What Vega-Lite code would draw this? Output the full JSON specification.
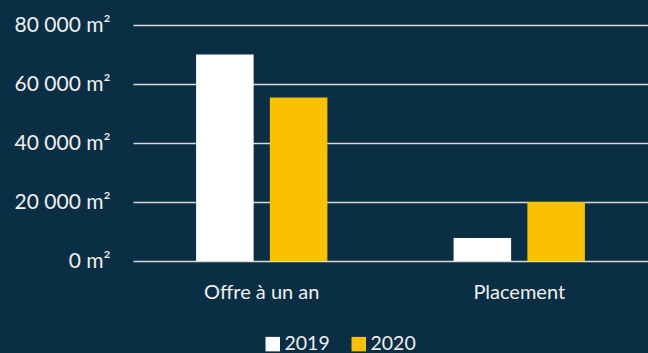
{
  "$schema": "https://vega.github.io/schema/vega-lite/v6.json",
  "width": 515,
  "height": 236,
  "autosize": {"type": "none"},
  "padding": {"left": 133, "top": 25, "right": 0, "bottom": 92},
  "background": "#0a2e44",
  "data": {
    "values": [
      {"categorie": "Offre à un an", "annee": "2019", "surface": 70000},
      {"categorie": "Offre à un an", "annee": "2020", "surface": 55400},
      {"categorie": "Placement", "annee": "2019", "surface": 7800},
      {"categorie": "Placement", "annee": "2020", "surface": 20000}
    ]
  },
  "mark": {"type": "bar"},
  "encoding": {
    "x": {
      "field": "categorie",
      "type": "nominal",
      "sort": null,
      "scale": {"paddingInner": 0.49, "paddingOuter": 0.245},
      "axis": {
        "title": null,
        "labelAngle": 0,
        "domain": false,
        "ticks": false,
        "labelPadding": 21,
        "labelFont": "Lato",
        "labelFontSize": 20,
        "labelColor": "#f0f0f0"
      }
    },
    "xOffset": {
      "field": "annee",
      "type": "nominal",
      "scale": {"paddingInner": 0.22, "paddingOuter": 0}
    },
    "y": {
      "field": "surface",
      "type": "quantitative",
      "scale": {"domain": [0, 80000], "nice": false},
      "axis": {
        "title": null,
        "values": [0, 20000, 40000, 60000, 80000],
        "labelExpr": "replace(format(datum.value, ',d'), ',', ' ') + ' m²'",
        "domain": false,
        "ticks": false,
        "labelPadding": 23,
        "labelFont": "Lato",
        "labelFontSize": 21,
        "labelColor": "#f0f0f0",
        "grid": true,
        "gridColor": "#d9d9d9",
        "gridWidth": 1.5
      }
    },
    "color": {
      "field": "annee",
      "type": "nominal",
      "scale": {"domain": ["2019", "2020"], "range": ["#ffffff", "#f9c100"]},
      "legend": {
        "title": null,
        "orient": "none",
        "direction": "horizontal",
        "legendX": 130,
        "legendY": 309,
        "symbolType": "square",
        "symbolSize": 210,
        "symbolOpacity": 1,
        "symbolStrokeWidth": 0,
        "labelFont": "Lato",
        "labelFontSize": 19.5,
        "labelColor": "#f0f0f0",
        "labelOffset": 2,
        "columnPadding": 19
      }
    }
  },
  "config": {
    "view": {"stroke": null}
  }
}
